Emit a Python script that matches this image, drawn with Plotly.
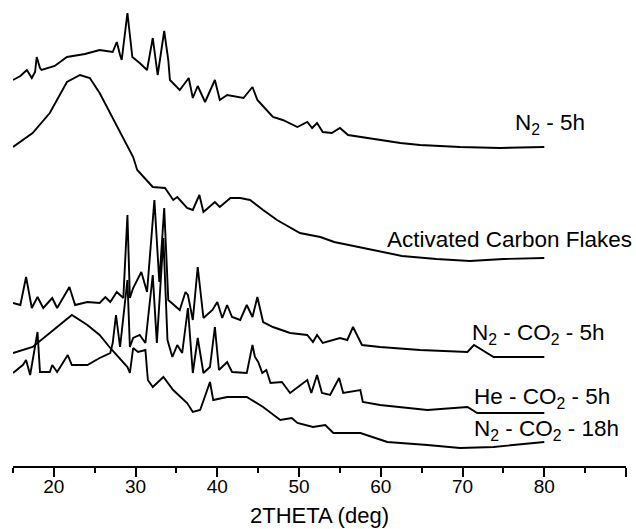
import plotly.graph_objects as go

# 2theta (deg) and stacked intensity (a.u.)
n2_5h_x = [15.0, 15.9, 16.7, 17.3, 17.7, 17.9, 18.3, 18.5, 20.1, 21.6, 23.8, 25.6, 27.2, 27.7, 28.1, 28.3,
           29.0, 29.4, 29.6, 30.5, 31.4, 32.1, 32.7, 33.5, 34.0, 34.2, 35.4, 36.5, 37.0, 37.6, 38.5, 39.7,
           40.3, 41.2, 43.2, 44.3, 44.9, 45.8, 46.8, 48.0, 49.8, 51.0, 51.6, 52.2, 52.9, 54.0, 55.0, 56.0,
           58.3, 60.3, 62.4, 64.8, 69.7, 74.6, 80.0]
n2_5h_y = [386, 390, 396, 388, 394, 409, 398, 396, 400, 409, 412, 416, 414, 424, 411, 406,
           453, 421, 409, 403, 396, 428, 391, 435, 406, 386, 376, 388, 368, 380, 364, 386,
           366, 371, 368, 379, 366, 358, 349, 346, 339, 344, 338, 343, 334, 333, 338, 331,
           328, 326, 323, 321, 319, 318, 319]

acf_x = [15.0, 17.4, 19.5, 21.6, 23.2, 24.4, 25.6, 26.9, 28.1, 29.7, 30.2, 32.1, 33.6, 34.6, 35.1, 36.3,
         37.0, 37.8, 38.3, 39.7, 40.3, 41.6, 42.8, 44.0, 45.6, 47.3, 50.1, 52.6, 54.3, 58.5, 62.6, 66.8,
         70.9, 75.0, 80.0]
acf_y = [319, 333, 353, 384, 391, 388, 373, 353, 333, 309, 296, 279, 278, 266, 269, 258,
         256, 271, 254, 264, 259, 268, 268, 266, 256, 246, 233, 229, 224, 217, 210, 207,
         205, 207, 208]

n2co2_5h_x = [15.0, 15.9, 16.6, 17.3, 18.0, 18.7, 19.8, 20.4, 21.9, 22.6, 24.1, 25.6, 26.3, 26.9, 27.7, 28.5,
              29.0, 29.3, 29.7, 30.7, 31.4, 32.3, 32.9, 33.5, 34.0, 35.4, 36.1, 36.4, 37.0, 37.6, 38.3, 39.4,
              40.0, 40.6, 41.2, 41.8, 42.8, 43.6, 44.3, 44.9, 45.6, 46.8, 48.9, 51.0, 51.7, 52.2, 52.9, 55.0,
              55.9, 56.6, 57.7, 59.9, 64.8, 70.6, 71.4, 73.8, 80.0]
n2co2_5h_y = [163, 161, 189, 158, 169, 158, 168, 158, 179, 161, 164, 163, 169, 164, 174, 168,
              251, 168, 178, 194, 174, 266, 184, 258, 166, 156, 174, 171, 146, 199, 148, 156,
              164, 148, 161, 149, 146, 161, 149, 169, 144, 139, 133, 131, 124, 131, 123, 128,
              126, 139, 121, 119, 116, 114, 121, 109, 109]

heco2_5h_x = [15.0, 16.2, 16.6, 17.1, 18.0, 18.3, 19.5, 19.8, 20.4, 21.7, 22.2, 24.1, 25.6, 26.9, 27.2, 27.6,
              28.1, 29.0, 29.3, 29.7, 30.5, 31.2, 31.5, 32.1, 32.6, 33.4, 33.9, 34.5, 35.1, 35.7, 36.4, 37.0,
              37.6, 38.3, 39.1, 39.7, 40.2, 41.2, 41.8, 43.6, 44.3, 44.6, 45.0, 45.5, 46.0, 46.5, 47.9, 48.9,
              51.0, 51.5, 52.2, 52.8, 53.8, 54.9, 55.4, 57.5, 57.8, 59.9, 65.7, 70.6, 71.8, 80.0]
heco2_5h_y = [93, 101, 106, 91, 134, 94, 94, 101, 94, 111, 101, 101, 108, 113, 123, 151,
              119, 186, 119, 128, 131, 123, 146, 191, 123, 228, 126, 109, 121, 113, 158, 93,
              128, 93, 99, 139, 96, 104, 94, 93, 121, 109, 104, 93, 96, 83, 84, 73,
              86, 73, 91, 73, 71, 88, 73, 76, 64, 61, 56, 59, 53, 53]

n2co2_18h_x = [15.0, 17.4, 19.5, 22.2, 24.1, 25.6, 26.9, 29.0, 29.3, 29.7, 30.3, 31.2, 31.5, 32.1, 33.4, 34.6,
               36.3, 37.0, 37.9, 39.1, 39.5, 41.2, 43.6, 45.6, 47.7, 49.1, 49.8, 51.7, 53.2, 54.2, 57.5, 60.8,
               65.7, 69.7, 73.8, 80.0]
n2co2_18h_y = [113, 119, 133, 151, 141, 131, 118, 99, 93, 118, 114, 116, 86, 79, 89, 76,
               63, 54, 56, 84, 66, 69, 69, 59, 46, 48, 43, 39, 41, 33, 33, 24,
               21, 18, 19, 24]

series = [
    ("N<sub>2</sub> - 5h", n2_5h_x, n2_5h_y),
    ("Activated Carbon Flakes", acf_x, acf_y),
    ("N<sub>2</sub> - CO<sub>2</sub> - 5h", n2co2_5h_x, n2co2_5h_y),
    ("He - CO<sub>2</sub> - 5h", heco2_5h_x, heco2_5h_y),
    ("N<sub>2</sub> - CO<sub>2</sub> - 18h", n2co2_18h_x, n2co2_18h_y),
]

# label anchor positions (2theta, intensity)
label_x = [76.2, 60.5, 70.9, 71.1, 71.1]
label_y = [342, 227, 132, 68, 36]

tick_vals = [20, 30, 40, 50, 60, 70, 80, 90]

FONT = "Arial, Liberation Sans, sans-serif"

fig = go.Figure()
for name, xs, ys in series:
    fig.add_trace(go.Scatter(x=xs, y=ys, mode="lines", name=name,
                             line=dict(color="black", width=1.9), showlegend=False,
                             hoverinfo="skip"))

for (name, _, _), lx, ly in zip(series, label_x, label_y):
    fig.add_annotation(x=lx, y=ly, xref="x", yref="y", text=name, showarrow=False,
                       xanchor="left", yanchor="middle",
                       font=dict(family=FONT, size=22.5, color="black"))

fig.update_layout(
    width=636, height=529,
    margin=dict(l=13, r=10, t=0, b=63),
    plot_bgcolor="white", paper_bgcolor="white",
    font=dict(family=FONT, color="black"),
    xaxis=dict(range=[15, 90], tickvals=tick_vals, ticks="outside", ticklen=9, tickwidth=1.5,
               tickcolor="black", showline=True, linecolor="black", linewidth=1.5,
               showgrid=False, zeroline=False, ticklabelstandoff=-7,
               tickfont=dict(family=FONT, size=19, color="black"),
               minor=dict(dtick=5, tick0=15, ticks="outside", ticklen=5, tickwidth=1.5,
                          tickcolor="black", showgrid=False),
               title=dict(text="2THETA (deg)", font=dict(family=FONT, size=22, color="black"),
                          standoff=12)),
    yaxis=dict(range=[0, 466], visible=False, showgrid=False, zeroline=False),
)

fig.write_html("out.html", config={"displayModeBar": False},
               post_script="document.body.style.margin='0px';")
